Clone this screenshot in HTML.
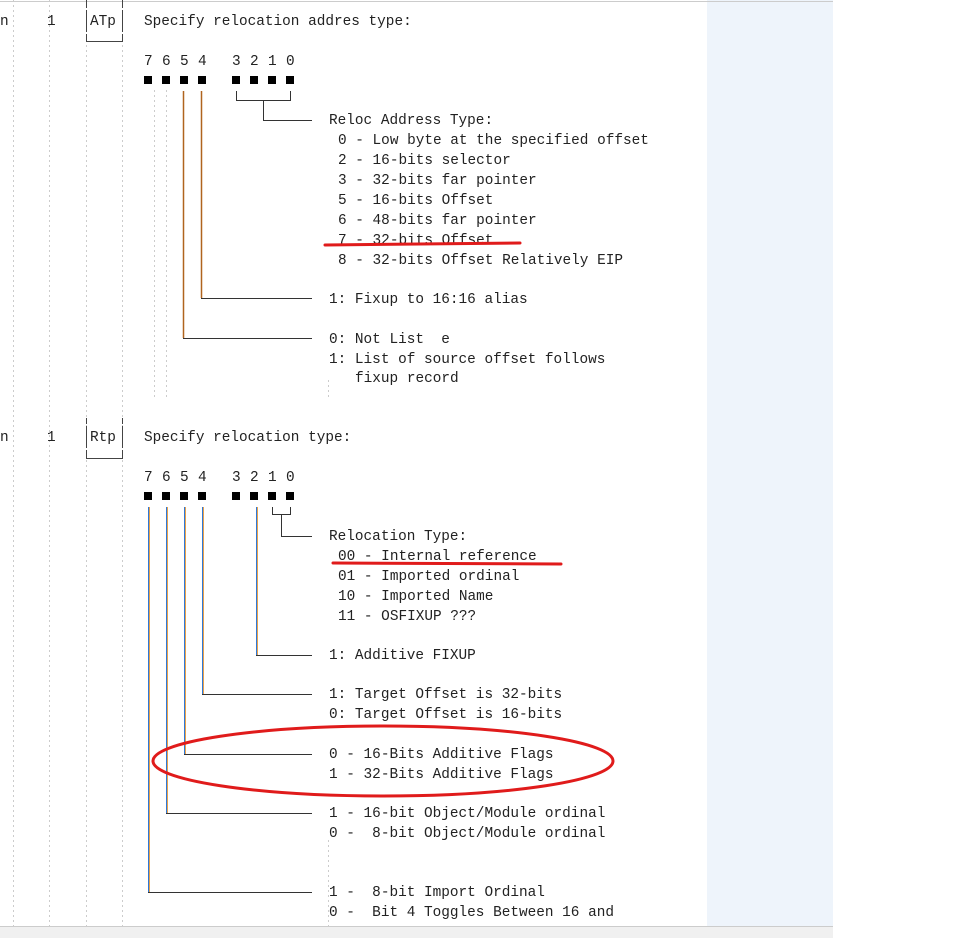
<!DOCTYPE html>
<html><head><meta charset="utf-8"><style>
html,body{margin:0;padding:0;background:#fff;width:976px;height:938px;overflow:hidden}
svg{display:block}
text{font-family:"Liberation Mono",monospace;font-size:14.4px;fill:#222;dominant-baseline:middle;white-space:pre}
</style></head><body>
<svg width="976" height="938" xmlns="http://www.w3.org/2000/svg" xml:space="preserve">
<rect x="707" y="0" width="126" height="926" fill="#eef4fb"/>
<rect x="0" y="926" width="833" height="12" fill="#f0f0f0"/>
<line x1="0" y1="926.5" x2="833" y2="926.5" stroke="#ccc"/>
<line x1="0" y1="1.5" x2="833" y2="1.5" stroke="#ccc"/>
<g stroke="#ccc" stroke-dasharray="2,3" stroke-width="1">
<line x1="13.5" y1="0" x2="13.5" y2="926"/><line x1="49.5" y1="0" x2="49.5" y2="926"/>
<line x1="86.5" y1="0" x2="86.5" y2="926"/><line x1="122.5" y1="0" x2="122.5" y2="926"/>
<line x1="154.5" y1="90" x2="154.5" y2="400"/><line x1="166.5" y1="90" x2="166.5" y2="400"/>
<line x1="328.5" y1="380" x2="328.5" y2="400"/><line x1="328.5" y1="840" x2="328.5" y2="926"/>
</g>
<!-- section 1 -->
<text x="0" y="21">n</text><text x="47" y="21">1</text>
<path d="M86.5 8V0M122.5 8V0M86.5 34V41.5H122.5V34" stroke="#444" fill="none"/>
<path d="M86.5 10V32M122.5 10V32" stroke="#444"/>
<text x="90" y="21">ATp</text>
<text x="144" y="21">Specify relocation addres type:</text>
<g><text x="144" y="61">7</text><text x="162" y="61">6</text><text x="180" y="61">5</text><text x="198" y="61">4</text><text x="232" y="61">3</text><text x="250" y="61">2</text><text x="268" y="61">1</text><text x="286" y="61">0</text></g>
<g fill="#000"><rect x="144" y="76" width="8" height="8"/><rect x="162" y="76" width="8" height="8"/><rect x="180" y="76" width="8" height="8"/><rect x="198" y="76" width="8" height="8"/><rect x="232" y="76" width="8" height="8"/><rect x="250" y="76" width="8" height="8"/><rect x="268" y="76" width="8" height="8"/><rect x="286" y="76" width="8" height="8"/></g>
<path d="M183.5 91V338M201.5 91V298" stroke="#b0641e" stroke-width="1.5" fill="none"/>
<path d="M183 338.5H312M201 298.5H312" stroke="#333" fill="none"/>
<path d="M236.5 91V100.5H290.5V91M263.5 100V120.5H312" stroke="#333" fill="none"/>
<text x="329" y="120">Reloc Address Type:</text>
<text x="338" y="140">0 - Low byte at the specified offset</text>
<text x="338" y="160">2 - 16-bits selector</text>
<text x="338" y="180">3 - 32-bits far pointer</text>
<text x="338" y="200">5 - 16-bits Offset</text>
<text x="338" y="220">6 - 48-bits far pointer</text>
<text x="338" y="240">7 - 32-bits Offset</text>
<text x="338" y="260">8 - 32-bits Offset Relatively EIP</text>
<text x="329" y="299">1: Fixup to 16:16 alias</text>
<text x="329" y="339">0: Not List  e</text>
<text x="329" y="359">1: List of source offset follows</text>
<text x="355" y="378">fixup record</text>
<line x1="325" y1="245" x2="520" y2="243" stroke="#e01b1b" stroke-width="3" stroke-linecap="round"/>
<!-- section 2 -->
<text x="0" y="437">n</text><text x="47" y="437">1</text>
<path d="M86.5 424V418M122.5 424V418M86.5 450V458.5H122.5V450" stroke="#444" fill="none"/>
<path d="M86.5 426V448M122.5 426V448" stroke="#444"/>
<text x="90" y="437">Rtp</text>
<text x="144" y="437">Specify relocation type:</text>
<g><text x="144" y="477">7</text><text x="162" y="477">6</text><text x="180" y="477">5</text><text x="198" y="477">4</text><text x="232" y="477">3</text><text x="250" y="477">2</text><text x="268" y="477">1</text><text x="286" y="477">0</text></g>
<g fill="#000"><rect x="144" y="492" width="8" height="8"/><rect x="162" y="492" width="8" height="8"/><rect x="180" y="492" width="8" height="8"/><rect x="198" y="492" width="8" height="8"/><rect x="232" y="492" width="8" height="8"/><rect x="250" y="492" width="8" height="8"/><rect x="268" y="492" width="8" height="8"/><rect x="286" y="492" width="8" height="8"/></g>
<g fill="none">
<path d="M148.5 507V892M166.5 507V813M184.5 507V754M202.5 507V694M256.5 507V655" stroke="#2f78d8"/>
<path d="M149.5 507V892M167.5 507V813M185.5 507V754M203.5 507V694M257.5 507V655" stroke="#e8a24a"/>
<path d="M148 892.5H312M166 813.5H312M184 754.5H312M202 694.5H312M256 655.5H312" stroke="#333"/>
<path d="M272.5 507V514.5H290.5V507M281.5 514V536.5H312" stroke="#333"/>
</g>
<text x="329" y="536">Relocation Type:</text>
<text x="338" y="556">00 - Internal reference</text>
<text x="338" y="576">01 - Imported ordinal</text>
<text x="338" y="596">10 - Imported Name</text>
<text x="338" y="616">11 - OSFIXUP ???</text>
<text x="329" y="655">1: Additive FIXUP</text>
<text x="329" y="694">1: Target Offset is 32-bits</text>
<text x="329" y="714">0: Target Offset is 16-bits</text>
<text x="329" y="754">0 - 16-Bits Additive Flags</text>
<text x="329" y="774">1 - 32-Bits Additive Flags</text>
<text x="329" y="813">1 - 16-bit Object/Module ordinal</text>
<text x="329" y="833">0 -  8-bit Object/Module ordinal</text>
<text x="329" y="892">1 -  8-bit Import Ordinal</text>
<text x="329" y="912">0 -  Bit 4 Toggles Between 16 and</text>
<line x1="333" y1="563" x2="561" y2="564" stroke="#e01b1b" stroke-width="3" stroke-linecap="round"/>
<ellipse cx="383" cy="761" rx="230" ry="35" fill="none" stroke="#e01b1b" stroke-width="3"/>
</svg>
</body></html>
